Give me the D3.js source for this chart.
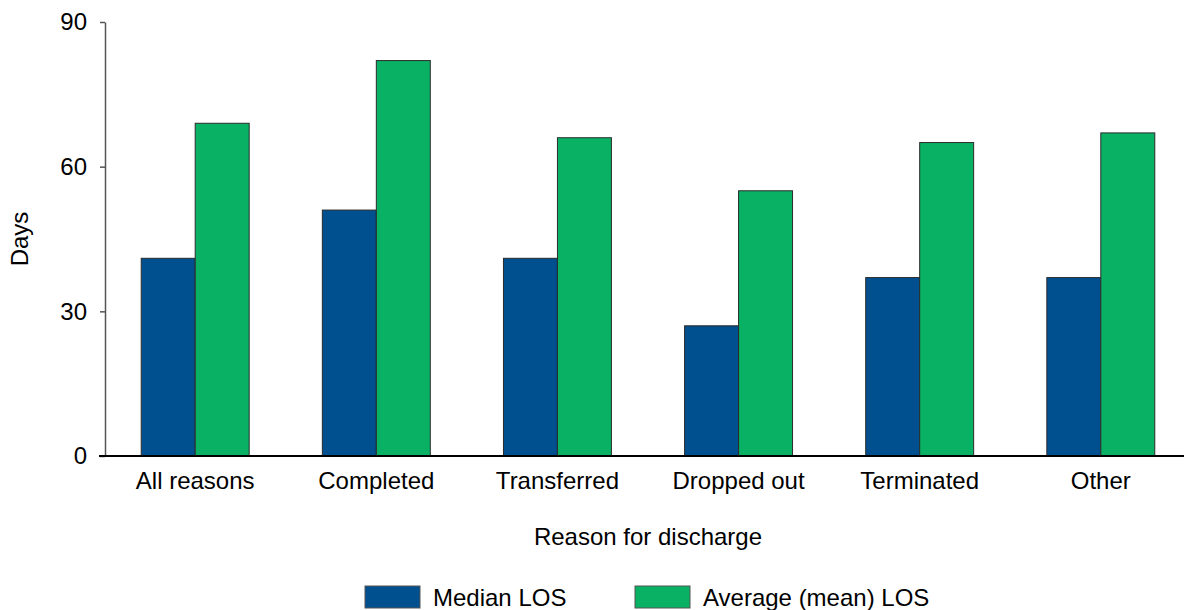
<!DOCTYPE html>
<html>
<head>
<meta charset="utf-8">
<script src="https://cdn.jsdelivr.net/npm/d3@7"></script>
<style>
  html, body { margin: 0; padding: 0; background: #fff; }
  svg { display: block; font-family: "Liberation Sans", Arial, sans-serif; }
</style>
</head>
<body>
<svg id="chart" width="1184" height="610"></svg>
<script>
const categories = ["All reasons", "Completed", "Transferred", "Dropped out", "Terminated", "Other"];
const seriesNames = ["Median LOS", "Average (mean) LOS"];
const medianLOS = [41, 51, 41, 27, 37, 37];
const meanLOS = [69, 82, 66, 55, 65, 67];
const yTicks = [0, 30, 60, 90];
const colors = ["#004F8F", "#08B163"];

const svg = d3.select("#chart");
const x0 = 105, x1 = 1191, yTop = 22, yBot = 456;

const x = d3.scaleBand().domain(categories).range([x0, x1]).paddingInner(0.404).paddingOuter(0.2);
const xs = d3.scaleBand().domain(seriesNames).range([0, x.bandwidth()]);
const y = d3.scaleLinear().domain([0, 90]).range([yBot, yTop]);

const data = categories.map((c, i) => ({ cat: c, vals: [medianLOS[i], meanLOS[i]] }));

// bars
const g = svg.append("g");
data.forEach(d => {
  d.vals.forEach((v, j) => {
    g.append("rect")
      .attr("x", x(d.cat) + xs(seriesNames[j]))
      .attr("y", y(v))
      .attr("width", xs.bandwidth())
      .attr("height", y(0) - y(v))
      .attr("fill", colors[j])
      .attr("stroke", "#2b2b2b")
      .attr("stroke-width", 1);
  });
});

// y axis
const yAxis = d3.axisLeft(y).tickValues(yTicks).tickSize(5).tickSizeOuter(0).tickPadding(13);
const yg = svg.append("g").attr("transform", `translate(${x0},0)`).call(yAxis);
yg.select(".domain").attr("stroke", "#555").attr("stroke-width", 1.5);
yg.selectAll(".tick line").attr("stroke", "#555").attr("stroke-width", 1.5);
yg.selectAll(".tick text").attr("font-size", 24).attr("fill", "#000").attr("font-family", "Liberation Sans, Arial, sans-serif");

// x axis
const xAxis = d3.axisBottom(x).tickSize(0).tickPadding(16);
const xg = svg.append("g").attr("transform", `translate(0,${yBot})`).call(xAxis);
xg.select(".domain").remove();
xg.selectAll(".tick text").attr("font-size", 24).attr("fill", "#000").attr("font-family", "Liberation Sans, Arial, sans-serif");
svg.append("line").attr("x1", 99).attr("x2", 1184).attr("y1", yBot).attr("y2", yBot)
  .attr("stroke", "#000").attr("stroke-width", 2);

// axis titles
svg.append("text").attr("x", 648).attr("y", 545).attr("text-anchor", "middle")
  .attr("font-size", 24).text("Reason for discharge");
svg.append("text").attr("transform", "translate(28,239) rotate(-90)").attr("text-anchor", "middle")
  .attr("font-size", 24).text("Days");

// legend
const legendX = [365, 635];
seriesNames.forEach((s, j) => {
  svg.append("rect").attr("x", legendX[j]).attr("y", 586).attr("width", 55).attr("height", 22)
    .attr("fill", colors[j]).attr("stroke", "#555").attr("stroke-width", 1);
  svg.append("text").attr("x", legendX[j] + 68).attr("y", 606).attr("font-size", 24).text(s);
});
</script>
</body>
</html>
